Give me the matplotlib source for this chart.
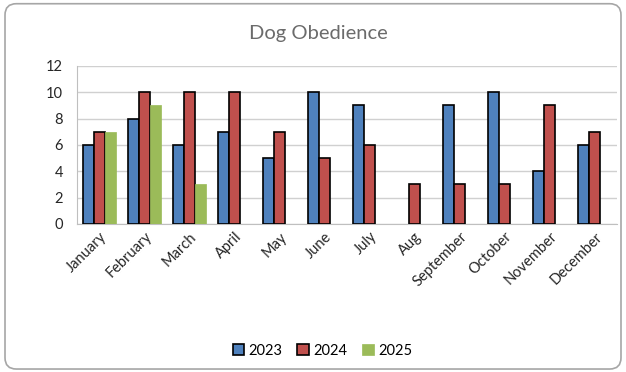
import matplotlib
matplotlib.use("Agg")
import matplotlib.pyplot as plt
from matplotlib.patches import FancyBboxPatch
import numpy as np

months = ["January", "February", "March", "April", "May", "June", "July",
          "Aug", "September", "October", "November", "December"]
y2023 = [6, 8, 6, 7, 5, 10, 9, np.nan, 9, 10, 4, 6]
y2024 = [7, 10, 10, 10, 7, 5, 6, 3, 3, 3, 9, 7]
y2025 = [7, 9, 3, np.nan, np.nan, np.nan, np.nan, np.nan, np.nan, np.nan, np.nan, np.nan]

plt.rcParams['font.family'] = ['Lato', 'DejaVu Sans']

fig = plt.figure(figsize=(6.26, 3.72), dpi=100)
ax = fig.add_axes([0.123, 0.398, 0.863, 0.425])

# outer rounded frame of the chart
frame = FancyBboxPatch((0.008, 0.008), 0.984, 0.982, boxstyle="round,pad=0,rounding_size=0.018",
                       transform=fig.transFigure, facecolor='none', edgecolor='#a6a6a6', lw=1.2,
                       mutation_aspect=626 / 372)
fig.patches.append(frame)

x = np.arange(len(months))
w = 0.245
ax.bar(x - w, y2023, w, color='#4F81BD', edgecolor='black', lw=1.2, label='2023', zorder=3)
ax.bar(x, y2024, w, color='#C0504D', edgecolor='black', lw=1.2, label='2024', zorder=3)
ax.bar(x + w, y2025, w, color='#9BBB59', edgecolor='#9BBB59', lw=0.5, label='2025', zorder=3)

ax.set_xlim(-0.5, len(months) - 0.5)
ax.set_ylim(0, 12)
ax.set_yticks(range(0, 13, 2))
ax.yaxis.grid(True, color='#d0d0d0', lw=1)
ax.set_axisbelow(True)
for s in ['top', 'right']:
    ax.spines[s].set_visible(False)
ax.spines['left'].set_color('#bfbfbf')
ax.spines['bottom'].set_color('#bfbfbf')
ax.tick_params(axis='y', length=0, pad=10, labelsize=10.5, labelcolor='#262626')
ax.tick_params(axis='x', length=0, pad=4, labelsize=10.5, labelcolor='#262626')
ax.set_xticks(x)
ax.set_xticklabels(months, rotation=45, ha='right', rotation_mode='anchor')

fig.text(0.508, 0.91, "Dog Obedience", ha='center', va='center', fontsize=14.5, color='#6b6b6b')

fig.legend(loc='center', bbox_to_anchor=(0.515, 0.057), ncol=3, frameon=False, fontsize=10.5,
           handlelength=0.8, handleheight=0.8, handletextpad=0.3, columnspacing=1.0)

fig.savefig("out.png", dpi=100)
